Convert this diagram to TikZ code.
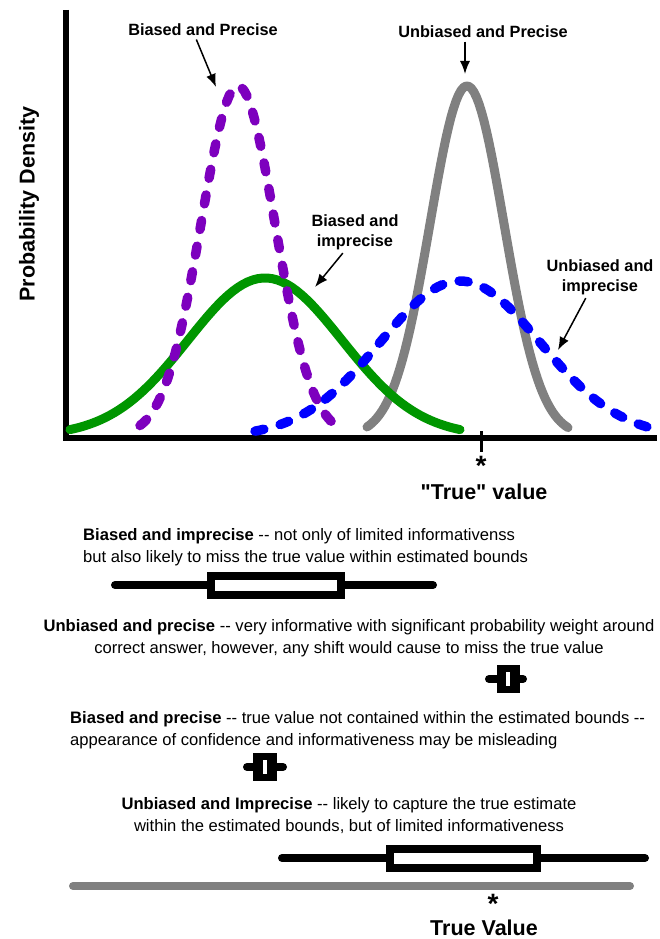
\documentclass[tikz,border=0pt]{standalone}
\usepackage{fontspec}
\setmainfont{Liberation Sans}[Ligatures=TeXOff]
\usepackage{xcolor}
\usetikzlibrary{arrows.meta}
\definecolor{bpPurple}{RGB}{125,0,190}
\definecolor{biGreen}{RGB}{0,150,0}
\definecolor{uiBlue}{RGB}{0,0,255}
\definecolor{upGray}{RGB}{128,128,128}

\begin{document}
\begin{tikzpicture}[x=1pt, y=-1pt, >={Latex[length=13pt,width=10pt]},
  lbl/.style={font=\fontsize{16.3}{20}\selectfont\bfseries, align=center},
  note/.style={font=\fontsize{16.6}{22}\selectfont, inner sep=0pt},
  big/.style={font=\fontsize{21.5}{24}\selectfont\bfseries, inner sep=0pt},
  starmark/.style={font=\fontsize{28}{28}\selectfont\bfseries, inner sep=0pt},
  pointer/.style={->, line width=1.5pt},
  solidcurve/.style={line width=9pt, line cap=round, line join=round},
  dotcurve/.style={line width=9.5pt, line cap=round, dash pattern=on 9pt off 17pt},
  whisker/.style={line width=8pt, line cap=round},
  ibox/.style={draw, line width=8pt, fill=white}]
  \useasboundingbox (0,0) rectangle (659,939);

  % axes
  \draw[line width=6pt] (66,10) -- (66,438) -- (657,438);
  \node[rotate=90, font=\fontsize{21.5}{24}\selectfont\bfseries] (ylab) at (29,204) {Probability Density};

  % densities
  \draw[solidcurve, upGray] plot[domain=367:568, samples=80]
    (\x, {436 - 350*exp(-0.5*((\x-467)/37)^2)});
  \draw[solidcurve, biGreen] plot[domain=70:460, samples=80]
    (\x, {436 - 158*exp(-0.5*((\x-265)/77)^2)});
  \draw[dotcurve, bpPurple] plot[domain=140:336, samples=80]
    (\x, {436 - 350*exp(-0.5*((\x-238)/37)^2)});
  \draw[dotcurve, uiBlue] plot[domain=255:657, samples=80]
    (\x, {437 - 156*exp(-0.5*((\x-460)/80)^2)});

  % true value mark
  \draw[line width=3pt] (481,431) -- (481,452);
  \node[starmark] (star) at (481,466) {*};
  \node[big] (tv) at (484,492) {"True" value};

  % curve labels
  \node[lbl] (bpLab) at (203,30) {Biased and Precise};
  \node[lbl] (upLab) at (483,32) {Unbiased and Precise};
  \node[lbl] (biLab) at (355,232) {Biased and\\imprecise};
  \node[lbl] (uiLab) at (600,277) {Unbiased and\\imprecise};
  \coordinate (bpTip) at (216,87);
  \coordinate (upTip) at (465,74);
  \coordinate (biTip) at (315,287);
  \coordinate (uiTip) at (558,350);
  \draw[pointer] (bpLab.235) -- (bpTip);
  \draw[pointer] (upLab.south -| upTip) -- (upTip);
  \draw[pointer] (biLab.240) -- (biTip);
  \draw[pointer] (uiLab.236) -- (uiTip);

  % interval explanations
  \node[note, anchor=west, align=left] (txtBI) at (83,547)
    {\textbf{Biased and imprecise} -- not only of limited informativenss\\
     but also likely to miss the true value within estimated bounds};
  \draw[whisker] (115,585) -- (433,585);
  \draw[ibox] (211,576) rectangle (341,595);

  \node[note, align=center] (txtUP) at (349,638)
    {\textbf{Unbiased and precise} -- very informative with significant probability weight around\\
     correct answer, however, any shift would cause to miss the true value};
  \draw[whisker] (489,679) -- (523,679);
  \fill (497,665) rectangle (520,693);
  \fill[white] (506,672) rectangle (510,686);

  \node[note, anchor=west, align=left] (txtBP) at (70,730)
    {\textbf{Biased and precise} -- true value not contained within the estimated bounds --\\
     appearance of confidence and informativeness may be misleading};
  \draw[whisker] (247,767) -- (283,767);
  \fill (253,753) rectangle (277,781);
  \fill[white] (263,760) rectangle (267,774);

  \node[note, align=center] (txtUI) at (349,816)
    {\textbf{Unbiased and Imprecise} -- likely to capture the true estimate\\
     within the estimated bounds, but of limited informativeness};
  \draw[whisker] (282,858) -- (645,858);
  \draw[ibox] (390,849) rectangle (537,868);

  \draw[whisker, upGray] (73,886) -- (630,886);
  \node[starmark] (star2) at (493,904) {*};
  \node[big] (tv2) at (484,928) {True Value};
\end{tikzpicture}
\end{document}
